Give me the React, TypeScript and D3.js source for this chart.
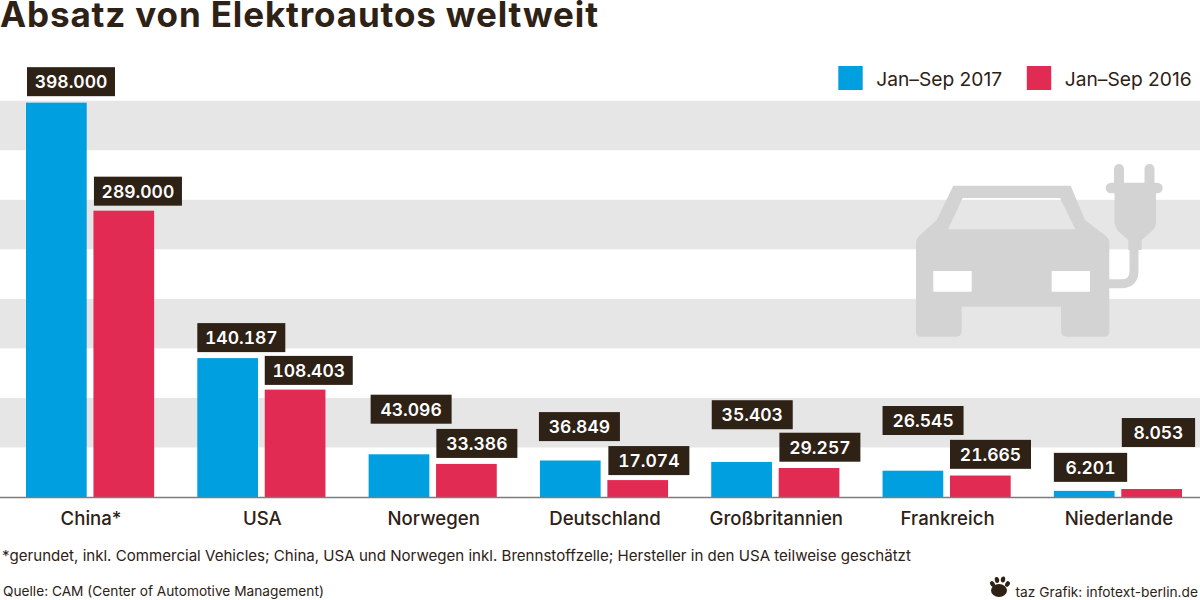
import React from "react";
import { scaleBand, scaleLinear, range } from "d3";

const categories = ["China*", "USA", "Norwegen", "Deutschland", "Großbritannien", "Frankreich", "Niederlande"];
const sales2017 = [398000, 140187, 43096, 36849, 35403, 26545, 6201];
const sales2016 = [289000, 108403, 33386, 17074, 29257, 21665, 8053];
const seriesNames = ["Jan–Sep 2017", "Jan–Sep 2016"];
const seriesValues = [sales2017, sales2016];
const colors = ["#009fdf", "#e22b52"];

// px from the bar top up to the bottom of its label box, the labels are placed by hand in the original
const labelLift = [
  [6.5, 6, 30.6, 19.4, 32.7, 35.7, 9],
  [5, 4.7, 6, 5, 6.3, 6.7, 42],
];
// same for the sideways nudge of each box
const labelShift = [
  [1, 0, 2, -1, 0.5, 0, 0],
  [0.5, 0, 0.3, 1, 0.7, 0, 0.5],
];

const ink = "#2e2116";
const font = "Inter, 'Liberation Sans', sans-serif";

const fmt = (v: number) => v.toLocaleString("de-DE");

const W = 1200;
const H = 600;
const baseline = 497;

const y = scaleLinear().domain([0, 400000]).range([baseline, 100.7]);
const x0 = scaleBand<string>().domain(categories).range([26, 1182]).paddingInner(0.252);
const x1 = scaleBand<number>().domain([0, 1]).range([0, x0.bandwidth()]).paddingInner(0.1);

const bandStarts = range(0, 400000, 100000);

function CarIcon() {
  return (
    <g fill="#d3d3d3">
      <path
        fillRule="evenodd"
        d="M953.3 185.7 H1070.7 L1085 220 L1106 236 Q1109.3 239 1109.3 242 V332 Q1109.3 336.7 1104 336.7 H1067 Q1061 336.7 1061 331 V306.7 H961.7 V331 Q961.7 336.7 956 336.7 H921 Q916 336.7 916 332 V242 Q916 239 919 236 L936.7 220 Z
           M962.7 198 L948 229.3 H1075.3 L1060 198 Z
           M933.3 271 V291.7 H971.7 V271 Z M1051.7 271 V291.7 H1090 V271 Z"
      />
      <path d="M1109 283.8 H1121 Q1134 283.8 1134 271 V245" fill="none" stroke="#d3d3d3" strokeWidth="9" />
      <path d="M1114.5 188 V222 Q1115 227 1118 231 L1128.3 240 V250 H1141.7 V240 L1152 231 Q1156 227 1156 222 V188 Z" />
      <rect x="1105.7" y="182.7" width="57" height="10.6" rx="5.3" />
      <rect x="1114" y="164" width="10" height="26" rx="5" />
      <rect x="1144.5" y="164" width="10" height="26" rx="5" />
    </g>
  );
}

function Paw() {
  return (
    <g fill="#2e2116">
      <ellipse cx={999} cy={590.5} rx={8} ry={6.5} />
      <ellipse cx={992.5} cy={584} rx={2.2} ry={3} transform="rotate(-35 992.5 584)" />
      <ellipse cx={997} cy={580} rx={2.2} ry={3} transform="rotate(-10 997 580)" />
      <ellipse cx={1003} cy={579.5} rx={2.2} ry={3} transform="rotate(10 1003 579.5)" />
      <ellipse cx={1007.5} cy={584} rx={2.2} ry={3} transform="rotate(30 1007.5 584)" />
    </g>
  );
}

export default function App() {
  return (
    <svg
      width={W}
      height={H}
      viewBox={`0 0 ${W} ${H}`}
      style={{ position: "absolute", left: 0, top: 0, fontFamily: font }}
    >
      <rect width={W} height={H} fill="#fff" />

      {bandStarts.map((d) => (
        <rect key={d} x={0} width={W} y={y(d + 100000)} height={y(d + 50000) - y(d + 100000)} fill="#e6e6e7" />
      ))}

      <CarIcon />

      <text x={0} y={26.5} fontSize={35} fontWeight={700} fill={ink} textLength={598} lengthAdjust="spacing">
        Absatz von Elektroautos weltweit
      </text>

      {seriesNames.map((name, i) => (
        <g key={name} transform={`translate(${838.3 + i * 188.5},0)`}>
          <rect x={0} y={66} width={24.4} height={24} fill={colors[i]} />
          <text x={38} y={85.7} fontSize={19.2} fill={ink}>
            {name}
          </text>
        </g>
      ))}

      {categories.map((c, ci) =>
        seriesValues.map((vals, si) => {
          const bx = (x0(c) as number) + (x1(si) as number);
          const by = y(vals[ci]);
          return (
            <rect key={c + si} x={bx} y={by} width={x1.bandwidth()} height={baseline - by} fill={colors[si]} />
          );
        })
      )}

      <line x1={0} x2={W} y1={baseline + 0.5} y2={baseline + 0.5} stroke="#7d7d7d" strokeWidth={1.6} />

      {categories.map((c, ci) =>
        seriesValues.map((vals, si) => {
          const label = fmt(vals[ci]);
          const boxW = label.length > 6 ? 88 : label.length > 5 ? 81 : 73.3;
          const bx = (x0(c) as number) + (x1(si) as number) + labelShift[si][ci];
          const bottom = y(vals[ci]) - labelLift[si][ci];
          return (
            <g key={c + si}>
              <rect x={bx} y={bottom - 29} width={boxW} height={29} fill={ink} />
              <text
                x={bx + boxW / 2}
                y={bottom - 7.8}
                textAnchor="middle"
                fontSize={17.5}
                fontWeight={600}
                fill="#fff"
                style={{ fontVariantNumeric: "tabular-nums" }}
              >
                {label}
              </text>
            </g>
          );
        })
      )}

      {categories.map((c) => (
        <text
          key={c}
          x={(x0(c) as number) + x0.bandwidth() / 2 + 1}
          y={525}
          textAnchor="middle"
          fontSize={18.6}
          fontWeight={500}
          fill={ink}
        >
          {c}
        </text>
      ))}

      <text x={2} y={561} fontSize={15.08} fill={ink}>
        *gerundet, inkl. Commercial Vehicles; China, USA und Norwegen inkl. Brennstoffzelle; Hersteller in den USA teilweise geschätzt
      </text>
      <text x={3} y={596} fontSize={13.7} fill={ink}>
        Quelle: CAM (Center of Automotive Management)
      </text>
      <Paw />
      <text x={1198} y={596.7} textAnchor="end" fontSize={13.75} fill={ink}>
        taz Grafik: infotext-berlin.de
      </text>
    </svg>
  );
}
